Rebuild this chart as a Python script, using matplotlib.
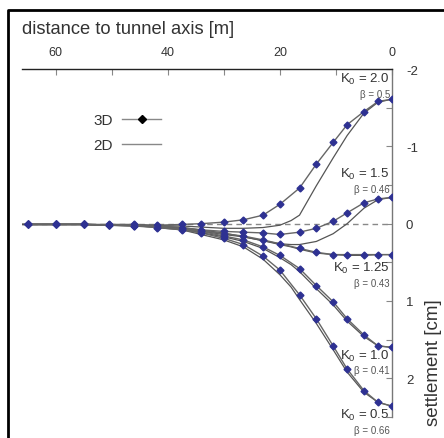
import matplotlib
matplotlib.use("Agg")
import matplotlib.pyplot as plt
from matplotlib.lines import Line2D
import numpy as np

plt.rcParams['font.family'] = ['Liberation Sans', 'DejaVu Sans']
plt.rcParams['mathtext.fontset'] = 'custom'
plt.rcParams['mathtext.rm'] = 'Liberation Sans'

# distance to tunnel axis [m] for the 3D points
x3d = [65, 60, 55, 50.5, 46, 42, 37.5, 34, 30, 26.5, 23, 20, 16.5, 13.5, 10.5, 8, 5, 2.5, 0]
# settlement [cm], 3D results
s3d_k20 = [0.01, 0.01, 0.01, 0.01, 0.01, 0.02, 0.01, 0.0, -0.02, -0.05, -0.11, -0.25, -0.46, -0.77, -1.05, -1.28, -1.45, -1.58, -1.61]
s3d_k15 = [0.01, 0.01, 0.01, 0.02, 0.02, 0.03, 0.05, 0.08, 0.10, 0.11, 0.12, 0.14, 0.11, 0.06, -0.03, -0.14, -0.27, -0.32, -0.34]
s3d_k125 = [0.01, 0.01, 0.01, 0.02, 0.02, 0.04, 0.07, 0.09, 0.13, 0.16, 0.21, 0.26, 0.32, 0.37, 0.40, 0.40, 0.40, 0.40, 0.40]
s3d_k10 = [0.01, 0.01, 0.01, 0.02, 0.03, 0.04, 0.07, 0.10, 0.16, 0.21, 0.30, 0.41, 0.58, 0.80, 1.01, 1.23, 1.44, 1.58, 1.60]
s3d_k05 = [0.01, 0.01, 0.01, 0.02, 0.03, 0.05, 0.08, 0.12, 0.19, 0.27, 0.42, 0.60, 0.92, 1.23, 1.58, 1.88, 2.16, 2.31, 2.36]

# 2D results
x2d = [66, 55, 45, 37.5, 30, 26.5, 23, 20, 18, 16.5, 13.5, 10.5, 8, 5, 2.5, 0]
s2d_k20 = [0.01, 0.01, 0.02, 0.03, 0.06, 0.06, 0.05, 0.02, -0.04, -0.11, -0.49, -0.85, -1.14, -1.43, -1.57, -1.61]
s2d_k15 = [0.01, 0.01, 0.02, 0.05, 0.12, 0.17, 0.22, 0.26, 0.27, 0.27, 0.23, 0.13, 0.0, -0.20, -0.31, -0.34]
s2d_k125 = [0.01, 0.01, 0.02, 0.06, 0.14, 0.17, 0.22, 0.27, 0.30, 0.33, 0.38, 0.40, 0.41, 0.41, 0.40, 0.40]
s2d_k10 = [0.01, 0.01, 0.02, 0.07, 0.17, 0.23, 0.32, 0.44, 0.53, 0.62, 0.84, 1.05, 1.26, 1.46, 1.58, 1.60]
s2d_k05 = [0.01, 0.01, 0.03, 0.08, 0.21, 0.30, 0.46, 0.66, 0.82, 0.98, 1.29, 1.63, 1.92, 2.18, 2.31, 2.36]

k_labels = ['2.0', '1.5', '1.25', '1.0', '0.5']
beta_labels = ['0.5', '0.46', '0.43', '0.41', '0.66']
k_label_y = [-1.88, -0.65, 0.56, 1.70, 2.47]
beta_label_y = [-1.68, -0.45, 0.77, 1.89, 2.67]

blue = '#2E3192'
grey = '#555555'

fig = plt.figure(figsize=(4.44, 4.39), dpi=100)
ax = fig.add_axes([22 / 444, 1 - 418 / 439, 370 / 444, 348 / 439])

ax.axhline(0, color='#888888', lw=1, ls=(0, (4, 3)), zorder=1)

for s in [s2d_k20, s2d_k15, s2d_k125, s2d_k10, s2d_k05]:
    ax.plot(x2d, s, color=grey, lw=0.9, zorder=2)
for s in [s3d_k20, s3d_k15, s3d_k125, s3d_k10, s3d_k05]:
    ax.plot(x3d, s, color='#666666', lw=1, marker='D', ms=3.5,
            mfc=blue, mec=blue, zorder=3)

for k, b, ky, by in zip(k_labels, beta_labels, k_label_y, beta_label_y):
    ax.text(0.4, ky, 'K$_0$ = ' + k, ha='right', va='center',
            fontsize=9.5, color='#333333', zorder=5)
    ax.text(0.4, by, '\u03b2 = ' + b, ha='right', va='center',
            fontsize=7, color='#555555', zorder=5)

ax.set_xlim(66, 0)
ax.set_ylim(2.5, -2)

ax.spines['left'].set_visible(False)
ax.spines['bottom'].set_visible(False)
ax.spines['top'].set_color('#222222')
ax.spines['top'].set_linewidth(1)
ax.spines['right'].set_color('#777777')
ax.spines['right'].set_linewidth(1)

ax.xaxis.set_ticks_position('top')
ax.set_xticks(np.arange(0, 61, 10))
ax.set_xticklabels(['0', '', '20', '', '40', '', '60'])
ax.tick_params(axis='x', direction='in', length=4, width=0.8, color='#888888',
               pad=8, labelsize=9, labelcolor='#333333')

ax.yaxis.set_ticks_position('right')
ax.set_yticks(np.arange(-2, 2.51, 0.5))
ax.set_yticklabels(['-2', '', '-1', '', '0', '', '1', '', '2', ''])
ax.tick_params(axis='y', direction='in', length=4, width=0.8, color='#888888',
               pad=10, labelsize=9.5, labelcolor='#333333')

fig.text(22 / 444, 1 - 30 / 439, 'distance to tunnel axis [m]', ha='left',
         va='center', fontsize=13.2, color='#333333')
fig.text(433 / 444, 1 - 363 / 439, 'settlement [cm]', rotation=90, ha='center',
         va='center', fontsize=13.5, color='#333333')

handles = [Line2D([], [], color='#888888', lw=1, marker='D', ms=4, mfc='black', mec='black'),
           Line2D([], [], color='#888888', lw=1)]
ax.legend(handles, ['3D', '2D'], markerfirst=False, frameon=False,
          loc='upper left', bbox_to_anchor=(93 / 444, 1 - 114 / 439),
          bbox_transform=fig.transFigure, borderpad=0, borderaxespad=0,
          fontsize=11, labelcolor='#333333', handlelength=2.6,
          handletextpad=0.6, labelspacing=0.75)

# outer frame of the figure
fig.add_artist(Line2D([8 / 444, 8 / 444, 1.0], [0.0, 1 - 11 / 439, 1 - 11 / 439],
                      transform=fig.transFigure, color='black', lw=2))

fig.savefig('out.png', dpi=100)
